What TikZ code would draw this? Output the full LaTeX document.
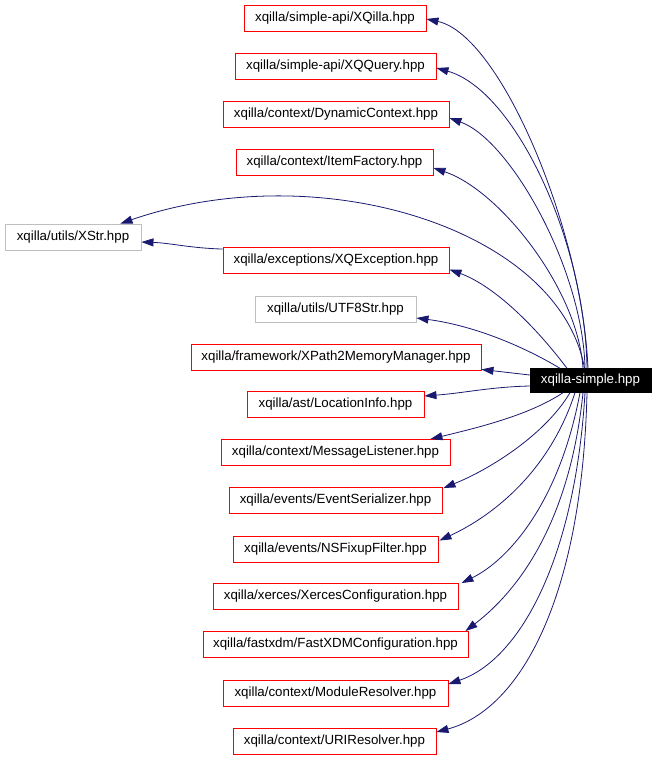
\documentclass[tikz,border=0pt]{standalone}
\usepackage{fontspec}
\setmainfont{Liberation Sans}
\usetikzlibrary{arrows.meta,calc}
\definecolor{edgeblue}{RGB}{25,25,112}
\definecolor{grayline}{RGB}{191,191,191}
\begin{document}
\begin{tikzpicture}[x=1pt,y=-1pt,
  box/.style={draw=red,line width=0.9pt,inner sep=0pt,minimum height=26pt,font=\fontsize{13.3}{15}\selectfont,text=black},
  graybox/.style={box,draw=grayline},
  mainbox/.style={draw=black,fill=black,text=white,inner sep=0pt,minimum height=24pt,minimum width=121pt,font=\fontsize{13.3}{15}\selectfont},
  edge/.style={draw=edgeblue,line width=0.8pt,-{Triangle[length=12pt,width=8pt]}}]
\useasboundingbox (0,0) rectangle (656,757);
\node[mainbox] (main) at (590.5,380.5) {xqilla-simple.hpp};
\node[box,minimum width=182pt] (xqilla) at (335,18.5) {xqilla/simple-api/XQilla.hpp};
\node[box,minimum width=201pt] (xqquery) at (335.5,66) {xqilla/simple-api/XQQuery.hpp};
\node[box,minimum width=226pt] (dyn) at (336,114) {xqilla/context/DynamicContext.hpp};
\node[box,minimum width=197pt] (itemf) at (334.5,162) {xqilla/context/ItemFactory.hpp};
\node[graybox,minimum width=136pt] (xstr) at (73,237) {xqilla/utils/XStr.hpp};
\node[box,minimum width=226pt] (xqexc) at (336,260.5) {xqilla/exceptions/XQException.hpp};
\node[graybox,minimum width=161pt] (utf8) at (335.5,309) {xqilla/utils/UTF8Str.hpp};
\node[box,minimum width=290pt] (xpath) at (336,357) {xqilla/framework/XPath2MemoryManager.hpp};
\node[box,minimum width=177pt] (loc) at (335.5,404.5) {xqilla/ast/LocationInfo.hpp};
\node[box,minimum width=229pt] (msg) at (335.5,452.5) {xqilla/context/MessageListener.hpp};
\node[box,minimum width=213pt] (ev) at (335.5,500.5) {xqilla/events/EventSerializer.hpp};
\node[box,minimum width=205pt] (ns) at (335.5,549) {xqilla/events/NSFixupFilter.hpp};
\node[box,minimum width=245pt] (xer) at (335.5,596.5) {xqilla/xerces/XercesConfiguration.hpp};
\node[box,minimum width=265pt] (fast) at (335.5,644.5) {xqilla/fastxdm/FastXDMConfiguration.hpp};
\node[box,minimum width=225pt] (mod) at (335.5,693) {xqilla/context/ModuleResolver.hpp};
\node[box,minimum width=203pt] (uri) at (334.5,741.5) {xqilla/context/URIResolver.hpp};
% edges
\draw[edge] ($(main.north)+(-2.5,0)$) .. controls +(-6,-139) and +(74,16) .. ($(xqilla.east)+(0,0.5)$);
\draw[edge] ($(main.north)+(-3.5,0)$) .. controls +(-2,-129) and +(78,22) .. ($(xqquery.east)+(0,2)$);
\draw[edge] ($(main.north)+(-5.5,0)$) .. controls +(-2,-99) and +(61,22) .. ($(dyn.east)+(0,4)$);
\draw[edge] ($(main.north)+(-7.5,0)$) .. controls +(-5,-79) and +(66,22) .. ($(itemf.east)+(0,6)$);
\draw[edge] ($(main.north)+(-6,0)$) .. controls +(-25,-139) and +(200,-69) .. ($(xstr.north east)+(-21,0)$);
\draw[edge] ($(main.north)+(-23.5,0)$) .. controls +(-37,-49) and +(41,15) .. ($(xqexc.east)+(0,9)$);
\draw[edge] ($(main.north)+(-30.5,0)$) .. controls +(-40,-24) and +(54,7) .. ($(utf8.east)+(0,9)$);
\draw[edge] ($(main.west)+(0,-5.5)$) -- ($(xpath.south east)+(0,-1)$);
\draw[edge] ($(main.west)+(0,5.5)$) .. controls +(-40,1) and +(40,-3) .. ($(loc.east)+(0,-8.5)$);
\draw[edge] ($(main.south)+(-27.5,0)$) .. controls +(-33,22) and +(50,-12) .. ($(msg.north east)+(-20,0)$);
\draw[edge] ($(main.south)+(-20.5,0)$) .. controls +(-25,42) and +(47,-19) .. ($(ev.north east)+(1,1)$);
\draw[edge] ($(main.south)+(-15.5,0)$) .. controls +(-25,77) and +(56,-26) .. ($(ns.north east)+(1,5)$);
\draw[edge] ($(main.south)+(-10.5,0)$) .. controls +(-20,107) and +(49,-24) .. ($(xer.north east)+(3,0)$);
\draw[edge] ($(main.south)+(-7.5,0)$) .. controls +(-13,127) and +(55,-42) .. ($(fast.north east)+(-3,0)$);
\draw[edge] ($(main.south)+(-5.5,0)$) .. controls +(-10,167) and +(71,-24) .. ($(mod.east)+(0,-9)$);
\draw[edge] ($(main.south)+(-3.5,0)$) .. controls +(-5,207) and +(83,-22) .. ($(uri.east)+(0,-9.5)$);
\draw[edge] ($(xqexc.north west)+(0,2)$) .. controls +(-33,-1) and +(29,1) .. ($(xstr.east)+(0,5)$);
\end{tikzpicture}
\end{document}
